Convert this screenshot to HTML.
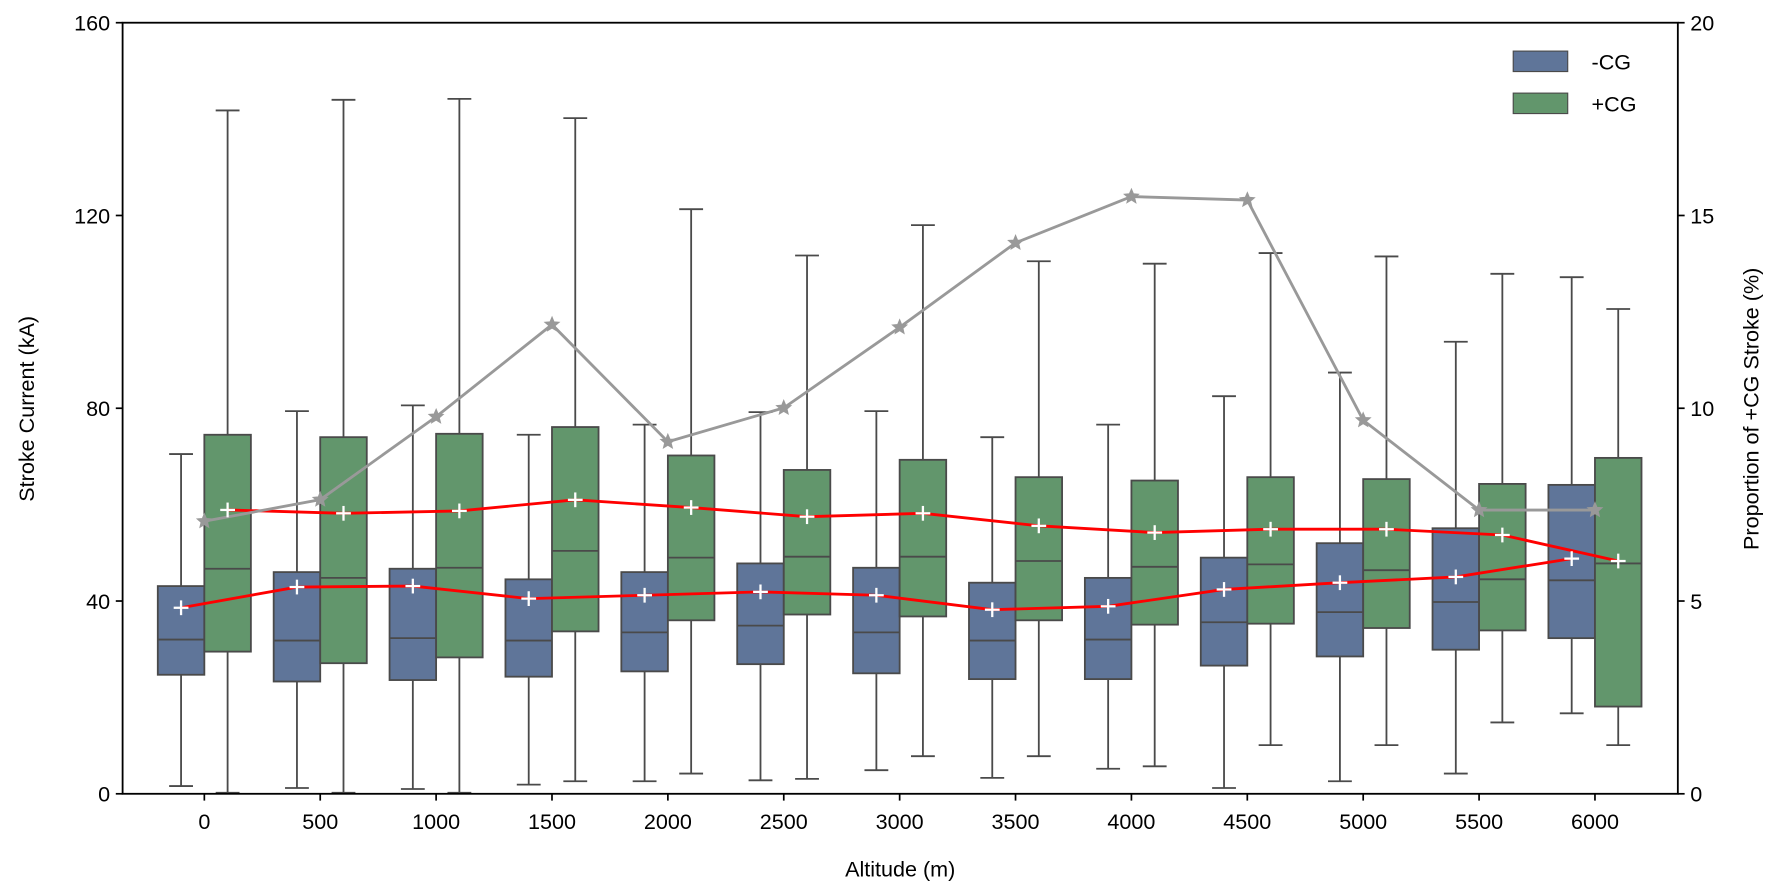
<!DOCTYPE html>
<html><head><meta charset="utf-8"><style>
html,body{margin:0;padding:0;background:#fff}
svg{display:block}
text{font-family:"Liberation Sans",sans-serif;fill:#000}
</style></head><body>
<svg id="chart" width="1780" height="896" viewBox="0 0 1568 789" preserveAspectRatio="none" xmlns="http://www.w3.org/2000/svg"></svg>
<script>
const categories=[0,500,1000,1500,2000,2500,3000,3500,4000,4500,5000,5500,6000];
const negQ1=[24.7,23.3,23.6,24.3,25.4,26.9,25,23.8,23.8,26.6,28.5,29.9,32.3];
const negQ3=[43.1,46,46.7,44.5,46,47.8,46.9,43.8,44.8,49,52,55.1,64.1];
const negMed=[32,31.8,32.3,31.8,33.5,34.9,33.5,31.8,32,35.6,37.7,39.8,44.3];
const negLow=[1.6,1.2,1,1.9,2.6,2.8,4.9,3.3,5.2,1.2,2.6,4.2,16.7];
const negHigh=[70.5,79.4,80.6,74.5,76.6,79.2,79.4,74,76.6,82.5,87.4,93.8,107.2];
const negMean=[38.6,42.9,43.1,40.5,41.2,41.9,41.2,38.2,38.9,42.4,43.8,45,48.8];
const posQ1=[29.5,27.1,28.3,33.7,36,37.2,36.8,36,35.1,35.3,34.4,33.9,18.1];
const posQ3=[74.5,74,74.7,76.1,70.2,67.2,69.3,65.7,65,65.7,65.3,64.3,69.7];
const posMed=[46.7,44.8,46.9,50.4,49,49.2,49.2,48.3,47.1,47.6,46.4,44.5,47.8];
const posLow=[0.2,0.2,0.2,2.6,4.2,3.1,7.8,7.8,5.7,10.1,10.1,14.8,10.1];
const posHigh=[141.8,144,144.2,140.2,121.3,111.7,118,110.5,110,112.2,111.5,107.9,100.6];
const posMean=[58.9,58.2,58.7,61,59.4,57.5,58.2,55.6,54.2,54.9,54.9,53.7,48.3];
const proportion=[7.07,7.63,9.78,12.17,9.13,10.01,12.1,14.29,15.49,15.4,9.69,7.36,7.36];
const yTicks=[0,40,80,120,160];
const y2Ticks=[0,5,10,15,20];

const svg=document.getElementById('chart');
const NS='http://www.w3.org/2000/svg';
const L=108,R=1478,T=20,B=699;
const xs=i=>180+i*((1405-180)/12);
const ys=v=>B-(v/160)*(B-T);
const ys2=v=>B-(v/20)*(B-T);
function mk(tag,at,parent){const e=document.createElementNS(NS,tag);for(const k in at)e.setAttribute(k,at[k]);(parent||svg).appendChild(e);return e;}

function drawBox(i,off,q1,q3,med,lo,hi,color,nm){
  const g=mk('g',{});
  
  
  const cx=xs(i)+off,w=41,st='#4a4a4a';
  mk('line',{x1:cx,x2:cx,y1:ys(q3),y2:ys(hi),stroke:st,'stroke-width':1.6},g);
  mk('line',{x1:cx,x2:cx,y1:ys(q1),y2:ys(lo),stroke:st,'stroke-width':1.6},g);
  mk('line',{x1:cx-10.5,x2:cx+10.5,y1:ys(hi),y2:ys(hi),stroke:st,'stroke-width':1.6},g);
  mk('line',{x1:cx-10.5,x2:cx+10.5,y1:ys(lo),y2:ys(lo),stroke:st,'stroke-width':1.6},g);
  mk('rect',{x:cx-w/2,y:ys(q3),width:w,height:ys(q1)-ys(q3),fill:color,stroke:st,'stroke-width':1.6},g);
  mk('line',{x1:cx-w/2,x2:cx+w/2,y1:ys(med),y2:ys(med),stroke:st,'stroke-width':1.6},g);
}
categories.forEach((c,i)=>{
  drawBox(i,-20.5,negQ1[i],negQ3[i],negMed[i],negLow[i],negHigh[i],'#5f7599','neg-cg');
  drawBox(i,20.5,posQ1[i],posQ3[i],posMed[i],posLow[i],posHigh[i],'#62966c','pos-cg');
});
function redLine(arr,off,nm){
  const p=mk('polyline',{points:arr.map((v,i)=>(xs(i)+off)+','+ys(v)).join(' '),fill:'none',stroke:'#ff0000','stroke-width':2.5});
  
  
}
redLine(negMean,-20.5,'neg-cg-mean-line');
redLine(posMean,20.5,'pos-cg-mean-line');
const gp=mk('polyline',{points:proportion.map((v,i)=>xs(i)+','+ys2(v)).join(' '),fill:'none',stroke:'#999','stroke-width':2.5});


function star(cx,cy,r){let p=[];for(let k=0;k<10;k++){const a=-Math.PI/2+k*Math.PI/5,rr=k%2?r*0.45:r;p.push((cx+rr*Math.cos(a)).toFixed(1)+','+(cy+rr*Math.sin(a)).toFixed(1));}return p.join(' ');}
proportion.forEach((v,i)=>{
  const s=mk('polygon',{points:star(xs(i),ys2(v),6.5),fill:'#999',stroke:'#999','stroke-width':1});
  
  
});
function plus(arr,off,nm){arr.forEach((v,i)=>{
  const g=mk('g',{stroke:'#fff','stroke-width':2});
  
  
  const cx=xs(i)+off,cy=ys(v);
  mk('line',{x1:cx-6.5,x2:cx+6.5,y1:cy,y2:cy},g);mk('line',{x1:cx,x2:cx,y1:cy-6.5,y2:cy+6.5},g);
});}
plus(negMean,-20.5,'neg-cg-mean-marker');
plus(posMean,20.5,'pos-cg-mean-marker');
const fr=mk('rect',{x:L,y:T,width:R-L,height:B-T,fill:'none',stroke:'#000','stroke-width':1.6});


yTicks.forEach(v=>{
  mk('line',{x1:L-6,x2:L,y1:ys(v),y2:ys(v),stroke:'#000','stroke-width':1.5});
  const t=mk('text',{x:L-11,y:ys(v)+7,'text-anchor':'end','font-size':19});t.textContent=v;
  
  
});
y2Ticks.forEach(v=>{
  mk('line',{x1:R,x2:R+6,y1:ys2(v),y2:ys2(v),stroke:'#000','stroke-width':1.5});
  const t=mk('text',{x:R+11,y:ys2(v)+7,'font-size':19});t.textContent=v;
  
  
});
categories.forEach((c,i)=>{
  mk('line',{x1:xs(i),x2:xs(i),y1:B,y2:B+6,stroke:'#000','stroke-width':1.5});
  const t=mk('text',{x:xs(i),y:B+31,'text-anchor':'middle','font-size':19});t.textContent=c;
  
  
});
</script>
<svg style="position:absolute;left:0;top:0" width="1780" height="896" viewBox="0 0 1568 789" preserveAspectRatio="none" xmlns="http://www.w3.org/2000/svg">
<text x="793" y="772" text-anchor="middle" font-size="19">Altitude (m)</text>
<text transform="translate(30,360) rotate(-90)" text-anchor="middle" font-size="19">Stroke Current (kA)</text>
<text transform="translate(1549,360) rotate(-90)" text-anchor="middle" font-size="19">Proportion of +CG Stroke (%)</text>
<g>
<rect x="1333" y="45" width="48" height="18" fill="#5f7599" stroke="#4a4a4a" stroke-width="1"/>
<text x="1402" y="61" font-size="19">-CG</text>
<rect x="1333" y="82" width="48" height="18" fill="#62966c" stroke="#4a4a4a" stroke-width="1"/>
<text x="1402" y="98" font-size="19">+CG</text>
</g>
</svg>
</body></html>
